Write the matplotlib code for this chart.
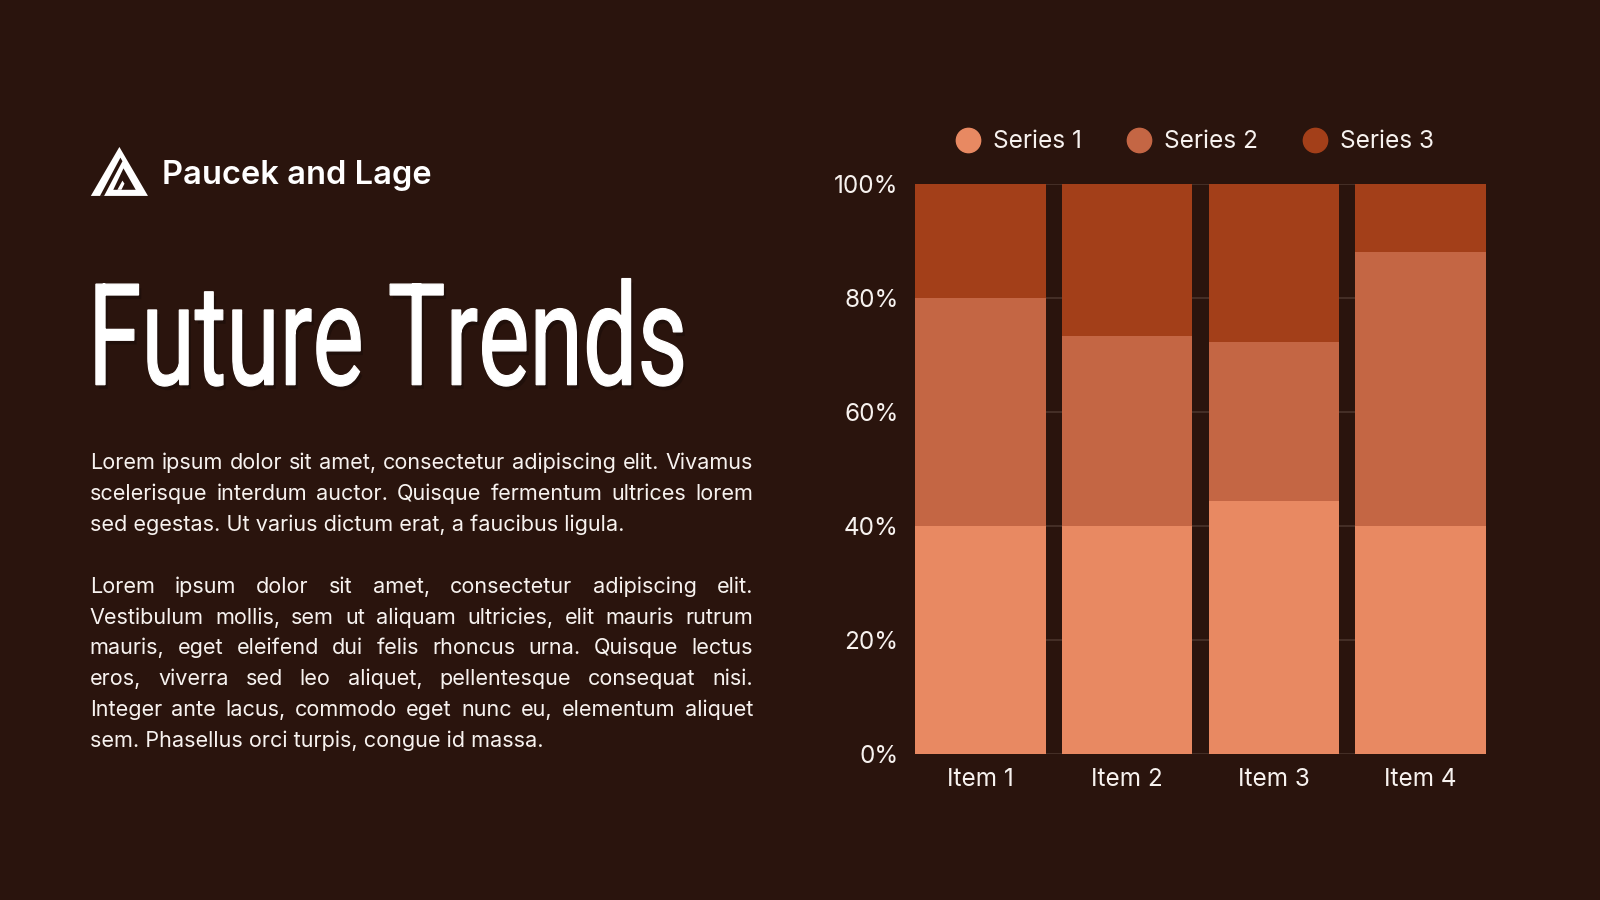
import matplotlib
matplotlib.use("Agg")
import matplotlib.pyplot as plt
import matplotlib.patheffects as pe
from matplotlib.font_manager import FontProperties
from matplotlib.lines import Line2D
from matplotlib.patches import PathPatch, Polygon
from matplotlib.textpath import TextPath
from matplotlib.transforms import Affine2D

BG = "#2a140d"
INK = "#f7f2ef"
GRID = "#4a342c"
COLORS = ["#e88962", "#c46644", "#a33f19"]
FONT = ["Inter", "DejaVu Sans"]

items = ["Item 1", "Item 2", "Item 3", "Item 4"]
series = ["Series 1", "Series 2", "Series 3"]
series_1 = [40.0, 40.0, 44.4, 40.0]
series_2 = [40.0, 33.3, 27.8, 48.0]
series_3 = [20.0, 26.7, 27.8, 12.0]
y_ticks = [0, 20, 40, 60, 80, 100]
y_tick_labels = ["0%", "20%", "40%", "60%", "80%", "100%"]

brand = "Paucek and Lage"
title = "Future Trends"
para_1 = [
    "Lorem ipsum dolor sit amet, consectetur adipiscing elit. Vivamus",
    "scelerisque interdum auctor. Quisque fermentum ultrices lorem",
    "sed egestas. Ut varius dictum erat, a faucibus ligula.",
]
para_2 = [
    "Lorem ipsum dolor sit amet, consectetur adipiscing elit.",
    "Vestibulum mollis, sem ut aliquam ultricies, elit mauris rutrum",
    "mauris, eget eleifend dui felis rhoncus urna. Quisque lectus",
    "eros, viverra sed leo aliquet, pellentesque consequat nisi.",
    "Integer ante lacus, commodo eget nunc eu, elementum aliquet",
    "sem. Phasellus orci turpis, congue id massa.",
]

S = 1600 / 1568  # layout was measured on a 1568 px wide slide

fig = plt.figure(figsize=(16, 9), dpi=100, facecolor=BG)
renderer = fig.canvas.get_renderer()

# overlay in pixel units (y down) for the text side of the slide
ov = fig.add_axes([0, 0, 1, 1])
ov.set_xlim(0, 1600)
ov.set_ylim(900, 0)
ov.axis("off")
ov.patch.set_alpha(0)


def text_width(s, size, weight="normal"):
    t = ov.text(0, 0, s, fontsize=size, family=FONT, weight=weight)
    w = t.get_window_extent(renderer).width
    t.remove()
    return w


def fit_size(s, target, weight="normal"):
    return 10 * target / text_width(s, 10, weight)


def draw_paragraph(lines, x0, x1, y0, step, size):
    for i, line in enumerate(lines):
        y = y0 + i * step
        if i == len(lines) - 1:
            ov.text(x0, y, line, fontsize=size, family=FONT, color=INK, va="baseline")
            continue
        words = line.split()
        widths = [text_width(w, size) for w in words]
        gap = (x1 - x0 - sum(widths)) / (len(words) - 1)
        x = x0
        for w, wd in zip(words, widths):
            ov.text(x, y, w, fontsize=size, family=FONT, color=INK, va="baseline")
            x += wd + gap


# logo
def logo_poly(pts, color):
    xy = [((89 + u) * S, (192 - v) * S) for u, v in pts]
    ov.add_patch(Polygon(xy, closed=True, facecolor=color, edgecolor="none"))


logo_poly([(0, 0), (56, 0), (28, 48)], "white")
logo_poly([(9, 0), (13, 0), (31, 34), (29, 37.5)], BG)
logo_poly([(32, 27), (44, 6), (22, 6)], BG)
logo_poly([(26, 6), (30, 6), (33, 12), (31, 15)], "white")

# brand name
brand_size = fit_size(brand, 264 * S, "semibold")
ov.text(159 * S, 180 * S, brand, fontsize=brand_size, family=FONT,
        weight="semibold", color="white", va="baseline")

# big condensed title, stretched from a text path to the measured box
tp = TextPath((0, 0), title, size=100,
              prop=FontProperties(family="Roboto", weight="normal"))
bb = tp.get_extents()
tx0, tx1, ttop, tbase = 94 * S, 669 * S, 273 * S, 377 * S
tr = (Affine2D().translate(-bb.x0, 0)
      .scale((tx1 - tx0) / bb.width, -(tbase - ttop) / bb.y1)
      .translate(tx0, tbase))
ov.add_patch(PathPatch(tr.transform_path(tp), facecolor="white",
                       edgecolor="white", lw=0.9,
                       path_effects=[pe.SimplePatchShadow(offset=(2, -3), shadow_rgbFace="black", alpha=0.22),
                                     pe.Normal()]))

# body copy
body_size = fit_size(para_1[-1], 526 * S)
draw_paragraph(para_1, 88 * S, 738 * S, 460 * S, 30.2 * S, body_size)
draw_paragraph(para_2, 88 * S, 738 * S, 581 * S, 30.2 * S, body_size)

# stacked 100% bar chart
left, right, top, bottom = 897 * S, 1456 * S, 180 * S, 739 * S
ax = fig.add_axes([left / 1600, 1 - bottom / 900, (right - left) / 1600, (bottom - top) / 900])
ax.patch.set_alpha(0)

x = range(len(items))
base = [0.0] * len(items)
for name, vals, c in zip(series, [series_1, series_2, series_3], COLORS):
    ax.bar(x, vals, width=0.89, bottom=base, color=c, label=name, zorder=2)
    base = [b + v for b, v in zip(base, vals)]

ax.set_xlim(-0.445, len(items) - 0.555)
ax.set_ylim(0, 100)
ax.set_yticks(y_ticks, y_tick_labels)
ax.set_xticks(list(x), items)
ax.yaxis.grid(True, color=GRID, lw=1.2, zorder=0)
ax.set_axisbelow(True)
for sp in ax.spines.values():
    sp.set_visible(False)
ax.tick_params(axis="y", length=0, pad=12, labelsize=17.5, labelcolor=INK)
ax.tick_params(axis="x", length=0, pad=10, labelsize=17.5, labelcolor=INK)
for lab in ax.get_xticklabels() + ax.get_yticklabels():
    lab.set_family(FONT)

handles = [Line2D([], [], marker="o", ls="", markersize=17.5, markerfacecolor=c,
                  markeredgecolor=c) for c in COLORS]
leg = ax.legend(handles, series, loc="center", ncol=3, frameon=False,
                bbox_to_anchor=(1171 * S / 1600, 1 - 139 * S / 900),
                bbox_transform=fig.transFigure, handlelength=1.0,
                handletextpad=0.5, columnspacing=1.85,
                prop={"family": FONT, "size": 17.6})
for t in leg.get_texts():
    t.set_color(INK)

fig.savefig("out.png", dpi=100, facecolor=BG)
